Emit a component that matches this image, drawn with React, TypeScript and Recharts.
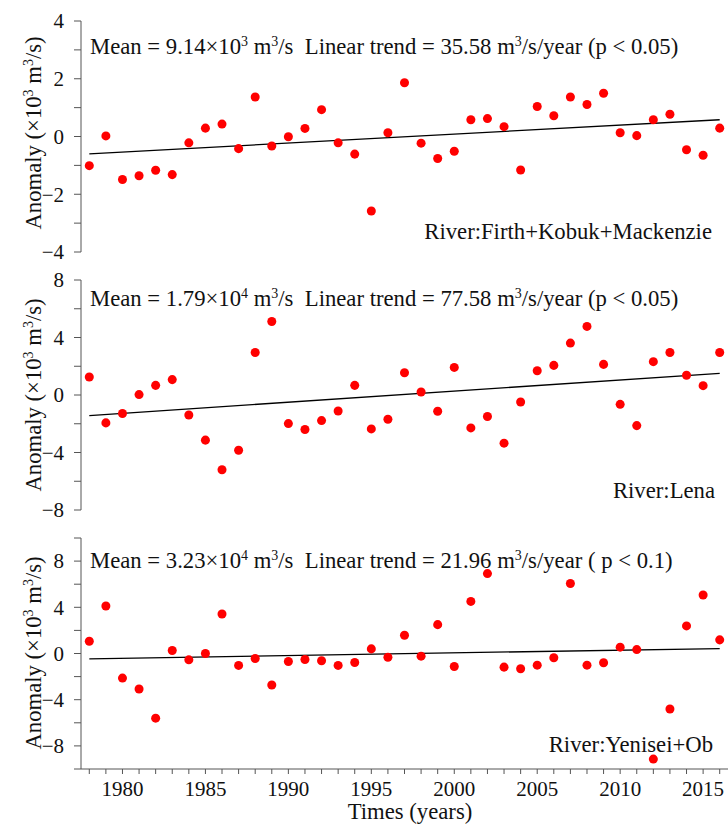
import React from "react";
import { ScatterChart, Scatter, XAxis, YAxis, ReferenceLine } from "recharts";

const years = [
  1978, 1979, 1980, 1981, 1982, 1983, 1984, 1985, 1986, 1987, 1988, 1989, 1990,
  1991, 1992, 1993, 1994, 1995, 1996, 1997, 1998, 1999, 2000, 2001, 2002, 2003,
  2004, 2005, 2006, 2007, 2008, 2009, 2010, 2011, 2012, 2013, 2014, 2015, 2016,
];

// anomalies, x10^3 m3/s
const firthKobukMackenzie = [
  -1.01, 0.02, -1.49, -1.36, -1.17, -1.32, -0.22, 0.29, 0.43, -0.42, 1.37, -0.33, -0.01,
  0.28, 0.93, -0.22, -0.61, -2.58, 0.13, 1.86, -0.23, -0.76, -0.51, 0.58, 0.62, 0.34,
  -1.16, 1.04, 0.72, 1.37, 1.11, 1.5, 0.13, 0.03, 0.58, 0.77, -0.46, -0.65, 0.29,
];
const lena = [
  1.25, -1.94, -1.29, 0.03, 0.67, 1.07, -1.39, -3.14, -5.2, -3.84, 2.96, 5.11, -1.99,
  -2.4, -1.78, -1.11, 0.67, -2.36, -1.69, 1.55, 0.21, -1.13, 1.92, -2.29, -1.5, -3.35,
  -0.49, 1.69, 2.06, 3.61, 4.77, 2.13, -0.65, -2.13, 2.32, 2.96, 1.37, 0.65, 2.96,
];
const yeniseiOb = [
  1.06, 4.11, -2.13, -3.07, -5.6, 0.26, -0.55, 0, 3.42, -1.03, -0.43, -2.73, -0.69,
  -0.52, -0.63, -1.03, -0.78, 0.4, -0.32, 1.58, -0.23, 2.5, -1.12, 4.51, 6.92, -1.18,
  -1.32, -1.01, -0.37, 6.06, -1.01, -0.8, 0.55, 0.34, -9.14, -4.8, 2.39, 5.06, 1.18,
];

// linear trend end points (first year, last year)
const trendYears = [1978, 2016];
const firthTrend = [-0.6, 0.58];
const lenaTrend = [-1.43, 1.51];
const yeniseiTrend = [-0.46, 0.43];

const firthTicks = [-4, -3, -2, -1, 0, 1, 2, 3, 4];
const lenaTicks = [-8, -6, -4, -2, 0, 2, 4, 6, 8];
const yeniseiTicks = [-10, -8, -6, -4, -2, 0, 2, 4, 6, 8, 10];

const FONT = "'Liberation Serif', 'Times New Roman', serif";
const AXIS = "#555";
const TXT = "#111";
const FS = 22.7;
const X_DOMAIN = [1977.5, 2016.5];

const rows = (vals: number[]) => years.map((year, i) => ({ year, value: vals[i] }));

const yLabel = (v: number, step: number) =>
  v % step === 0 ? (v < 0 ? "\u2212" + Math.abs(v) : String(v)) : "";

const YTick = (step: number) => (props: any) => {
  const { x, y, payload } = props;
  return (
    <text x={x} y={y} dy="0.35em" textAnchor="end" fontFamily={FONT} fontSize={21} fill={TXT}>
      {yLabel(payload.value, step)}
    </text>
  );
};

const XTick = (props: any) => {
  const { x, y, payload } = props;
  return (
    <text x={x} y={y} dy="0.75em" textAnchor="middle" fontFamily={FONT} fontSize={21} fill={TXT}>
      {payload.value % 5 === 0 ? String(payload.value) : ""}
    </text>
  );
};

type PanelProps = {
  values: number[];
  trend: number[];
  ticks: number[];
  labelStep: number;
  top: number;
  height: number;
  marginTop: number;
  marginBottom: number;
  showX?: boolean;
};

const Panel = ({ values, trend, ticks, labelStep, top, height, marginTop, marginBottom, showX }: PanelProps) => (
  <div style={{ position: "absolute", left: 0, top }}>
    <ScatterChart
      width={728}
      height={height}
      margin={{ top: marginTop, right: 0, bottom: marginBottom, left: 0 }}
    >
      <XAxis
        type="number"
        dataKey="year"
        domain={X_DOMAIN}
        allowDataOverflow
        ticks={years}
        interval={0}
        hide={!showX}
        height={59}
        tickSize={5}
        tickMargin={6}
        axisLine={{ stroke: AXIS }}
        tickLine={{ stroke: AXIS }}
        tick={XTick}
      />
      <YAxis
        type="number"
        dataKey="value"
        domain={[ticks[0], ticks[ticks.length - 1]]}
        ticks={ticks}
        interval={0}
        width={81}
        tickSize={7}
        tickMargin={10}
        axisLine={{ stroke: AXIS }}
        tickLine={{ stroke: AXIS }}
        tick={YTick(labelStep)}
      />
      <ReferenceLine
        segment={[
          { x: trendYears[0], y: trend[0] },
          { x: trendYears[1], y: trend[1] },
        ]}
        stroke="#000"
        strokeWidth={1.3}
        ifOverflow="visible"
      />
      <Scatter data={rows(values)} fill="#ff0000" isAnimationActive={false} />
    </ScatterChart>
  </div>
);

const MeanText = ({ y, mean, exp, trend, p }: { y: number; mean: string; exp: string; trend: string; p: string }) => (
  <text x={90} y={y} fontFamily={FONT} fontSize={FS} fill={TXT}>
    {"Mean = " + mean + "\u00d710"}
    <tspan dy={-8} fontSize={14}>{exp}</tspan>
    <tspan dy={8}>{" m"}</tspan>
    <tspan dy={-8} fontSize={14}>3</tspan>
    <tspan dy={8}>{"/s\u00a0\u00a0Linear trend = " + trend + " m"}</tspan>
    <tspan dy={-8} fontSize={14}>3</tspan>
    <tspan dy={8}>{"/s/year " + p}</tspan>
  </text>
);

const YTitle = ({ cy }: { cy: number }) => (
  <text
    x={41}
    y={cy}
    transform={`rotate(-90, 41, ${cy})`}
    textAnchor="middle"
    fontFamily={FONT}
    fontSize={FS}
    fill={TXT}
  >
    {"Anomaly (\u00d710"}
    <tspan dy={-8} fontSize={14}>3</tspan>
    <tspan dy={8}>{" m"}</tspan>
    <tspan dy={-8} fontSize={14}>3</tspan>
    <tspan dy={8}>{"/s)"}</tspan>
  </text>
);

export default function App() {
  return (
    <div style={{ position: "absolute", left: 0, top: 0, width: 728, height: 828, background: "#fff" }}>
      <Panel values={firthKobukMackenzie} trend={firthTrend} ticks={firthTicks} labelStep={2}
        top={0} height={266} marginTop={21} marginBottom={14} />
      <Panel values={lena} trend={lenaTrend} ticks={lenaTicks} labelStep={4}
        top={266} height={258} marginTop={14} marginBottom={14} />
      <Panel values={yeniseiOb} trend={yeniseiTrend} ticks={yeniseiTicks} labelStep={4}
        top={524} height={304} marginTop={14} marginBottom={0} showX />
      <svg width={728} height={828} style={{ position: "absolute", left: 0, top: 0, pointerEvents: "none" }}>
        <MeanText y={54} mean="9.14" exp="3" trend="35.58" p="(p < 0.05)" />
        <MeanText y={306} mean="1.79" exp="4" trend="77.58" p="(p < 0.05)" />
        <MeanText y={568} mean="3.23" exp="4" trend="21.96" p="( p < 0.1)" />
        <text x={712} y={239} textAnchor="end" fontFamily={FONT} fontSize={FS} fill={TXT}>River:Firth+Kobuk+Mackenzie</text>
        <text x={715} y={498} textAnchor="end" fontFamily={FONT} fontSize={FS} fill={TXT}>River:Lena</text>
        <text x={713} y={752} textAnchor="end" fontFamily={FONT} fontSize={FS} fill={TXT}>River:Yenisei+Ob</text>
        <YTitle cy={133} />
        <YTitle cy={395} />
        <YTitle cy={653} />
        <text x={410} y={819} textAnchor="middle" fontFamily={FONT} fontSize={FS} fill={TXT}>Times (years)</text>
      </svg>
    </div>
  );
}
